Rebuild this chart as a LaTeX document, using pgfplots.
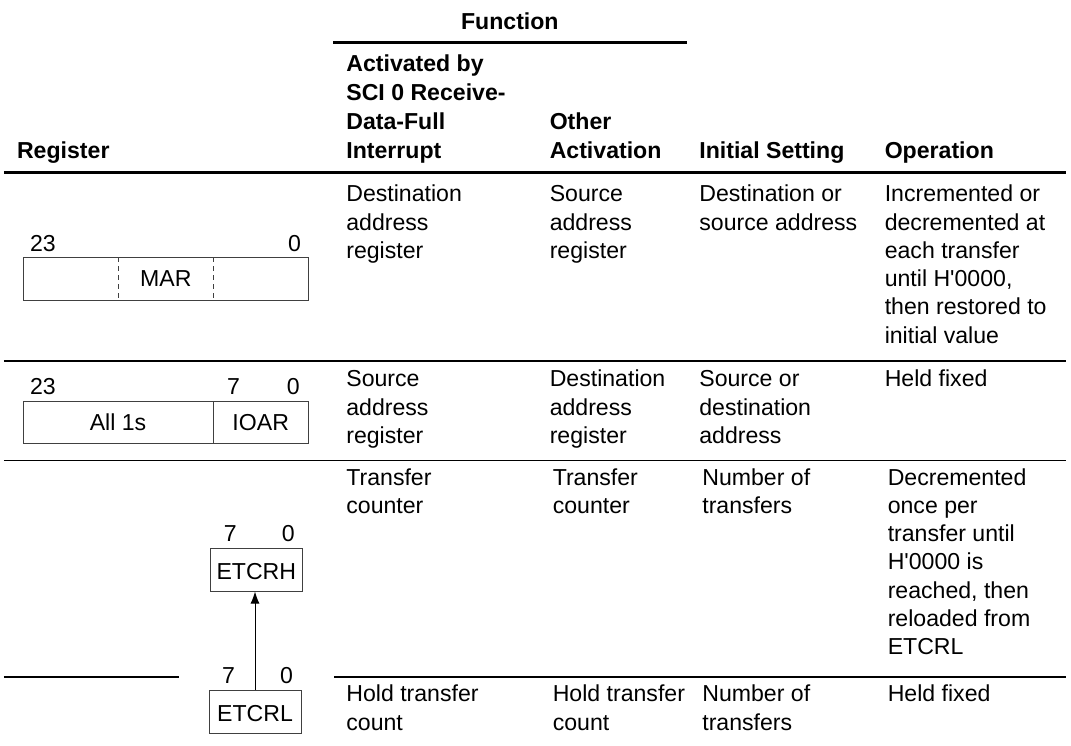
\documentclass[border=0pt]{standalone}
\usepackage{pgfplots}
\pgfplotsset{compat=1.18}
\usepackage{fontspec}
\setmainfont{Liberation Sans}
\usetikzlibrary{arrows.meta}
\newcommand{\F}{\fontsize{11.55pt}{14pt}\selectfont}
\newcommand{\T}[3]{\node[anchor=base west,font=\F] at (axis cs:#1,#2) {#3};}
\newcommand{\B}[3]{\node[anchor=base west,font=\F\bfseries] at (axis cs:#1,#2) {#3};}
\newcommand{\R}[3]{\node[anchor=base east,font=\F] at (axis cs:#1,#2) {#3};}
\newcommand{\C}[3]{\node[anchor=base,font=\F] at (axis cs:#1,#2) {#3};}
\newcommand{\q}{\textquotesingle}
\begin{document}
\begin{tikzpicture}
\begin{axis}[
  width=535.5pt, height=372.5pt, scale only axis,
  xmin=0, xmax=1071, ymin=0, ymax=745, y dir=reverse,
  hide axis, clip=false,
  every node/.append style={inner sep=0pt, outer sep=0pt, text=black},
]
\path (axis cs:0,0) rectangle (axis cs:1071,745);
% header
\B{454}{29.3}{Function}
\draw[line width=1.3pt] (axis cs:333.3,42.7) -- (axis cs:686.7,42.7);
\B{339.3}{71.7}{Activated by}
\B{339.3}{100.6}{SCI 0 Receive-}
\B{339.3}{129.5}{Data-Full}
\B{339.3}{158.3}{Interrupt}
\B{10}{158.3}{Register}
\B{542.7}{129.3}{Other}
\B{542.7}{158.3}{Activation}
\B{692.3}{158.3}{Initial Setting}
\B{877.7}{158.3}{Operation}
\draw[line width=1.3pt] (axis cs:4,172.7) -- (axis cs:1066,172.7);
% row 1
\T{339.3}{201.7}{Destination}
\T{339.3}{230.0}{address}
\T{339.3}{258.3}{register}
\T{542.7}{201.7}{Source}
\T{542.7}{230.0}{address}
\T{542.7}{258.3}{register}
\T{692.3}{201.7}{Destination or}
\T{692.3}{230.0}{source address}
\T{877.7}{201.7}{Incremented or}
\T{877.7}{230.0}{decremented at}
\T{877.7}{258.3}{each transfer}
\T{877.7}{286.6}{until H\q0000,}
\T{877.7}{314.9}{then restored to}
\T{877.7}{343.2}{initial value}
\T{23}{251.7}{23}
\R{308}{251.7}{0}
\draw[line width=0.5pt, black!75] (axis cs:23,257.3) rectangle (axis cs:308,300.7);
\draw[line width=0.5pt, black!75, dash pattern=on 2.5pt off 2pt] (axis cs:118.3,257.3) -- (axis cs:118.3,300.7);
\draw[line width=0.5pt, black!75, dash pattern=on 2.5pt off 2pt] (axis cs:213.3,257.3) -- (axis cs:213.3,300.7);
\C{165.8}{286.7}{MAR}
\draw[line width=0.65pt] (axis cs:4,361) -- (axis cs:1066,361);
% row 2
\T{339.3}{386.7}{Source}
\T{339.3}{415.0}{address}
\T{339.3}{443.3}{register}
\T{542.7}{386.7}{Destination}
\T{542.7}{415.0}{address}
\T{542.7}{443.3}{register}
\T{692.3}{386.7}{Source or}
\T{692.3}{415.0}{destination}
\T{692.3}{443.3}{address}
\T{877.7}{386.7}{Held fixed}
\T{23}{394}{23}
\T{220}{394}{7}
\R{306.7}{394}{0}
\draw[line width=0.5pt, black!75] (axis cs:23,401) rectangle (axis cs:308,443);
\draw[line width=0.5pt, black!75] (axis cs:213.3,401) -- (axis cs:213.3,443);
\C{118}{430}{All 1s}
\C{260.7}{430}{IOAR}
\draw[line width=0.65pt] (axis cs:4,460.5) -- (axis cs:1066,460.5);
% row 3
\T{339.3}{485.0}{Transfer}
\T{339.3}{513.3}{counter}
\T{545.7}{485.0}{Transfer}
\T{545.7}{513.3}{counter}
\T{695.3}{485.0}{Number of}
\T{695.3}{513.3}{transfers}
\T{880.7}{485.0}{Decremented}
\T{880.7}{513.3}{once per}
\T{880.7}{541.6}{transfer until}
\T{880.7}{569.9}{H\q0000 is}
\T{880.7}{598.2}{reached, then}
\T{880.7}{626.5}{reloaded from}
\T{880.7}{654.8}{ETCRL}
\T{216.7}{541.7}{7}
\R{301.7}{541.7}{0}
\draw[line width=0.5pt, black!75] (axis cs:210,548) rectangle (axis cs:302.7,591);
\C{256.3}{579.3}{ETCRH}
\draw[line width=0.5pt, -{Latex[length=6pt,width=4.5pt]}] (axis cs:255,690.7) -- (axis cs:255,591.5);
\draw[line width=0.65pt] (axis cs:4,677) -- (axis cs:179,677);
\draw[line width=0.65pt] (axis cs:334,677) -- (axis cs:1066,677);
% row 4
\T{339.3}{701.7}{Hold transfer}
\T{339.3}{730.0}{count}
\T{545.7}{701.7}{Hold transfer}
\T{545.7}{730.0}{count}
\T{695.3}{701.7}{Number of}
\T{695.3}{730.0}{transfers}
\T{880.7}{701.7}{Held fixed}
\T{215}{683}{7}
\R{300}{683}{0}
\draw[line width=0.5pt, black!75] (axis cs:209,690.7) rectangle (axis cs:301,733);
\C{255}{721.7}{ETCRL}
\end{axis}
\end{tikzpicture}
\end{document}
